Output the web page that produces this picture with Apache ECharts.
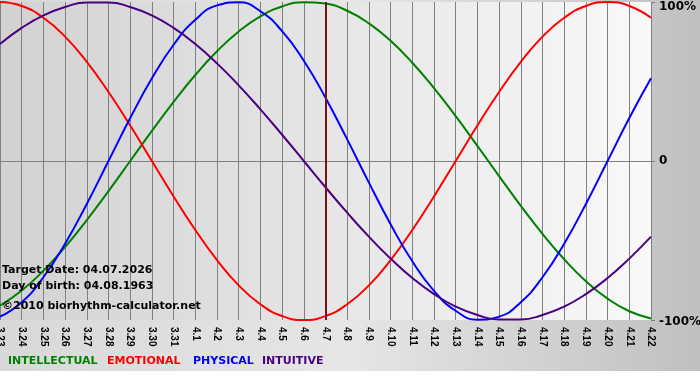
<!DOCTYPE html>
<html>
<head>
<meta charset="utf-8">
<script src="https://cdn.jsdelivr.net/npm/echarts@6/dist/echarts.min.js"></script>
<style>html,body{margin:0;padding:0;background:#fff}#c{width:700px;height:380px}</style>
</head>
<body>
<div id="c"></div>
<script>
var days = ['3.23','3.24','3.25','3.26','3.27','3.28','3.29','3.30','3.31','4.1','4.2','4.3','4.4','4.5','4.6','4.7','4.8','4.9','4.10','4.11','4.12','4.13','4.14','4.15','4.16','4.17','4.18','4.19','4.20','4.21','4.22'];
var intellectual = [-91.0,-81.5,-69.0,-54.1,-37.2,-18.9,0,18.9,37.2,54.1,69.0,81.5,91.0,97.2,99.9,99.0,94.5,86.6,75.6,61.8,45.8,28.2,9.5,-9.5,-28.2,-45.8,-61.8,-75.6,-86.6,-94.5,-99.0];
var emotional = [100,97.5,90.1,78.2,62.3,43.4,22.3,0,-22.3,-43.4,-62.3,-78.2,-90.1,-97.5,-100,-97.5,-90.1,-78.2,-62.3,-43.4,-22.3,0,22.3,43.4,62.3,78.2,90.1,97.5,100,97.5,90.1];
var physical = [-97.9,-88.8,-73.1,-52.0,-27.0,0,27.0,52.0,73.1,88.8,97.9,99.8,94.2,81.7,63.1,39.8,13.6,-13.6,-39.8,-63.1,-81.7,-94.2,-99.8,-97.9,-88.8,-73.1,-52.0,-27.0,0,27.0,52.0];
var intuitive = [73.6,83.7,91.6,96.9,99.7,99.7,96.9,91.6,83.7,73.6,61.4,47.6,32.5,16.5,0,-16.5,-32.5,-47.6,-61.4,-73.6,-83.7,-91.6,-96.9,-99.7,-99.7,-96.9,-91.6,-83.7,-73.6,-61.4,-47.6];
var targetDay = '4.7';
var yTicks = {'100':'100%','0':'0','-100':'-100%'};
var infoLines = ['Target Date: 04.07.2026','Day of birth: 04.08.1963','\u00a92010 biorhythm-calculator.net'];
var legendNames = ['INTELLECTUAL','EMOTIONAL','PHYSICAL','INTUITIVE'];
var colors = ['#008000','#ff0000','#0000ff','#4b0082'];

var chart = echarts.init(document.getElementById('c'), null, {renderer:'canvas'});
var seriesData = [intellectual, emotional, physical, intuitive];
var series = seriesData.map(function(d, i){
  return {
    name: legendNames[i], type:'line', data:d, smooth:0.5, symbol:'none',
    lineStyle:{color:colors[i], width:2}, itemStyle:{color:colors[i]}, z:3
  };
});
series[0].markLine = {
  symbol:'none', silent:true, label:{show:false},
  lineStyle:{color:'#7a1414', width:2, type:'solid'},
  data:[{xAxis:targetDay}], z:4
};
series[1].markLine = {
  symbol:'none', silent:true, label:{show:false},
  lineStyle:{color:'#808080', width:1, type:'solid'},
  data:[{yAxis:0}], z:1
};

var graphics = [
  {type:'rect', left:0, top:371, shape:{width:700,height:9}, style:{fill:'#ffffff'}, z:-10, silent:true}
];
var infoTops = [265, 281, 301];
infoLines.forEach(function(t, i){
  graphics.push({type:'text', left:2, top:infoTops[i], z:10, style:{text:t, fill:'#000', font:'bold 11px "DejaVu Sans"'}});
});
var legendX = [8, 107, 193, 262];
legendNames.forEach(function(t, i){
  graphics.push({type:'text', left:legendX[i], top:356, style:{text:t, fill:colors[i], font:'bold 11px "DejaVu Sans"'}});
});

chart.setOption({
  animation:false,
  backgroundColor:{type:'linear', x:0, y:0, x2:1, y2:0, colorStops:[
    {offset:0,color:'#d8d8d8'},{offset:0.5,color:'#e6e6e6'},{offset:1,color:'#c0c0c0'}]},
  grid:{left:0, right:49, top:2, bottom:60, show:true, borderWidth:0, containLabel:false, outerBoundsMode:'none',
    backgroundColor:{type:'linear', x:0, y:0, x2:1, y2:0, colorStops:[
      {offset:0,color:'#d2d2d2'},{offset:1,color:'#f9f9f9'}]}},
  xAxis:{type:'category', data:days, boundaryGap:false,
    axisLine:{lineStyle:{color:'#808080', width:1}},
    axisTick:{show:true, length:4, interval:0, lineStyle:{color:'#808080'}},
    axisLabel:{interval:0, rotate:-90, margin:7, color:'#000', fontFamily:'Liberation Sans', fontWeight:'bold', fontSize:10, hideOverlap:false},
    splitLine:{show:true, interval:0, lineStyle:{color:'#808080', width:1}}
  },
  yAxis:{type:'value', position:'right', min:-100, max:100, interval:100,
    axisLine:{show:false},
    axisTick:{show:true, length:4, lineStyle:{color:'#808080'}},
    axisLabel:{margin:8, color:'#000', fontFamily:'DejaVu Sans', fontWeight:'bold', fontSize:12,
      formatter:function(v){
        var s = yTicks[String(v)];
        if (v === 100) return '{top|' + s + '}';
        if (v === -100) return '{bot|' + s + '}';
        return s;
      },
      rich:{
        top:{padding:[10,0,0,0], fontFamily:'DejaVu Sans', fontWeight:'bold', fontSize:12, color:'#000'},
        bot:{padding:[4,0,0,0], fontFamily:'DejaVu Sans', fontWeight:'bold', fontSize:12, color:'#000'}
      }},
    splitLine:{show:false}
  },
  graphic:graphics,
  series:series
});
</script>
</body>
</html>
